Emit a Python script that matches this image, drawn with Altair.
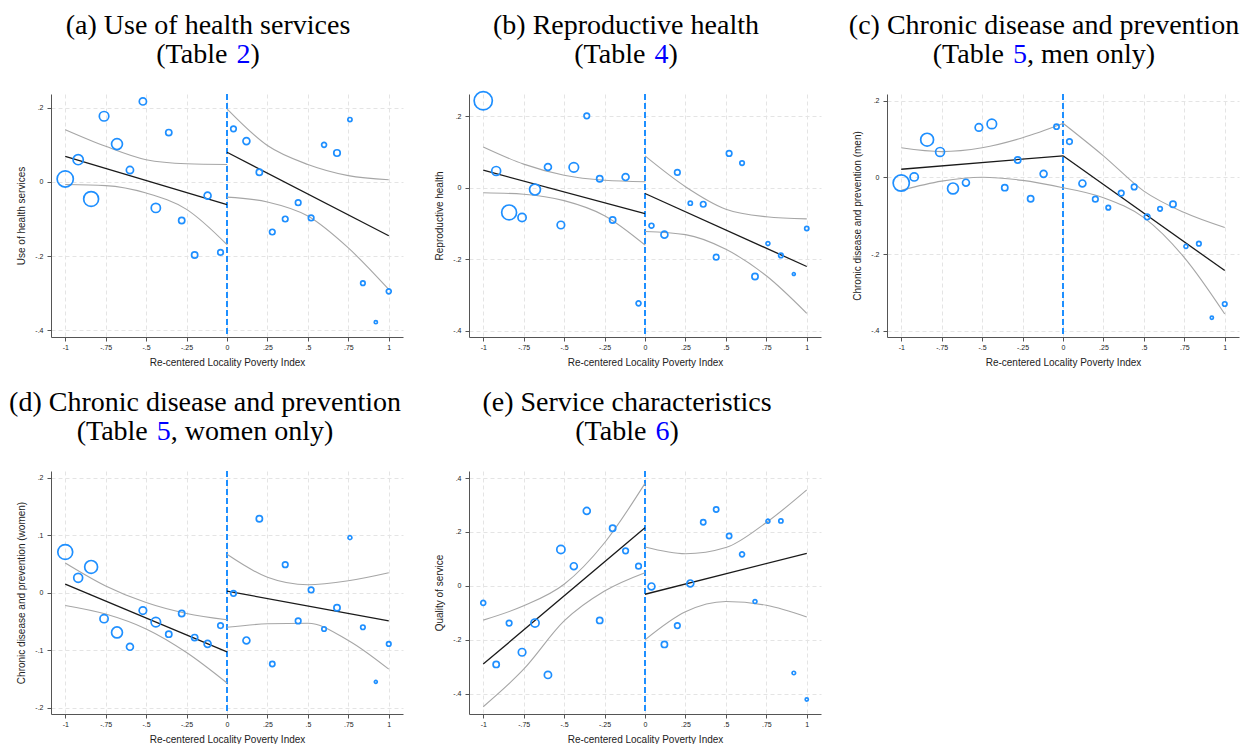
import altair as alt
import pandas as pd

# ---------------- data ----------------
bin_x = [-1.00, -0.92, -0.84, -0.76, -0.68, -0.60, -0.52, -0.44, -0.36, -0.28, -0.20, -0.12, -0.04,
         0.04, 0.12, 0.20, 0.28, 0.36, 0.44, 0.52, 0.60, 0.68, 0.76, 0.84, 0.92, 1.00]
cutoff = [0.0]

x_ticks = [-1, -0.75, -0.5, -0.25, 0, 0.25, 0.5, 0.75, 1]
x_tick_labels = ["-1", "-.75", "-.5", "-.25", "0", ".25", ".5", ".75", "1"]

ci_x_left = [-1.0, -0.75, -0.5, -0.25, 0.0]
ci_x_right = [0.0, 0.25, 0.5, 0.75, 1.0]

# (a) Use of health services
a_y = [0.008, 0.060, -0.046, 0.177, 0.102, 0.032, 0.217, -0.070, 0.133, -0.104, -0.197, -0.037, -0.190,
       0.143, 0.110, 0.026, -0.135, -0.100, -0.056, -0.097, 0.100, 0.078, 0.168, -0.273, -0.378, -0.295]
a_w = [16.2, 10.2, 14.9, 9.5, 10.9, 7.2, 7.2, 9.2, 6.2, 6.2, 6.2, 6.9, 5.5,
       5.5, 6.9, 6.2, 5.5, 5.5, 5.5, 5.5, 4.9, 6.5, 4.2, 4.5, 3.2, 4.9]
a_fit_left = [0.069, -0.061]
a_fit_right = [0.080, -0.145]
a_up_left = [0.141, 0.096, 0.060, 0.049, 0.047]
a_lo_left = [-0.007, -0.010, -0.030, -0.074, -0.169]
a_up_right = [0.197, 0.098, 0.047, 0.017, 0.006]
a_lo_right = [-0.041, -0.054, -0.092, -0.178, -0.290]

# (b) Reproductive health
b_y = [0.243, 0.047, -0.069, -0.083, -0.005, 0.058, -0.104, 0.057, 0.201, 0.025, -0.090, 0.030, -0.323,
       -0.106, -0.131, 0.043, -0.043, -0.046, -0.194, 0.096, 0.069, -0.248, -0.156, -0.189, -0.241, -0.114]
b_w = [18.2, 8.9, 14.9, 8.2, 10.9, 6.9, 7.5, 9.5, 5.5, 6.2, 6.2, 6.9, 4.9,
       4.9, 6.9, 5.5, 4.2, 5.5, 5.5, 5.5, 4.5, 6.2, 3.9, 4.5, 2.9, 4.2]
b_fit_left = [0.049, -0.072]
b_fit_right = [-0.016, -0.220]
b_up_left = [0.114, 0.066, 0.035, 0.021, 0.017]
b_lo_left = [-0.014, -0.018, -0.036, -0.078, -0.160]
b_up_right = [0.089, 0.003, -0.060, -0.081, -0.087]
b_lo_right = [-0.122, -0.131, -0.172, -0.246, -0.351]

# (c) Chronic disease and prevention, men
c_y = [-0.015, 0.001, 0.098, 0.066, -0.029, -0.014, 0.130, 0.139, -0.027, 0.045, -0.056, 0.009, 0.132,
       0.093, -0.016, -0.057, -0.079, -0.041, -0.025, -0.103, -0.082, -0.070, -0.180, -0.173, -0.366, -0.330]
c_w = [16.2, 8.2, 12.9, 8.9, 10.9, 6.9, 7.5, 9.5, 6.2, 6.2, 6.2, 6.9, 5.2,
       5.5, 6.9, 5.5, 4.5, 5.5, 5.5, 5.5, 4.5, 6.2, 3.9, 4.5, 3.2, 4.5]
c_fit_left = [0.021, 0.056]
c_fit_right = [0.056, -0.243]
c_up_left = [0.077, 0.067, 0.077, 0.103, 0.140]
c_lo_left = [-0.034, -0.010, 0.000, -0.008, -0.027]
c_up_right = [0.141, 0.056, -0.036, -0.092, -0.131]
c_lo_right = [-0.027, -0.053, -0.105, -0.209, -0.356]

# (d) Chronic disease and prevention, women
d_y = [0.071, 0.026, 0.045, -0.045, -0.069, -0.094, -0.031, -0.051, -0.072, -0.036, -0.078, -0.089, -0.057,
       -0.001, -0.083, 0.129, -0.124, 0.049, -0.049, 0.005, -0.063, -0.026, 0.096, -0.060, -0.155, -0.089]
d_w = [14.9, 8.9, 12.9, 8.2, 10.9, 6.9, 7.5, 9.5, 6.2, 6.2, 6.2, 6.9, 5.5,
       5.5, 6.9, 6.2, 5.2, 5.5, 5.5, 5.5, 4.5, 6.2, 3.9, 4.5, 2.9, 4.5]
d_fit_left = [0.015, -0.103]
d_fit_right = [0.003, -0.049]
d_up_left = [0.052, 0.012, -0.017, -0.036, -0.047]
d_lo_left = [-0.022, -0.037, -0.063, -0.104, -0.157]
d_up_right = [0.067, 0.027, 0.014, 0.021, 0.035]
d_lo_right = [-0.060, -0.054, -0.053, -0.083, -0.133]

# (e) Service characteristics
e_y = [-0.063, -0.291, -0.138, -0.246, -0.138, -0.330, 0.135, 0.073, 0.278, -0.128, 0.214, 0.130, 0.073,
       -0.002, -0.217, -0.147, 0.009, 0.236, 0.283, 0.185, 0.117, -0.058, 0.240, 0.241, -0.323, -0.421]
e_w = [4.9, 6.2, 5.5, 7.5, 8.2, 7.2, 8.2, 6.9, 6.9, 6.2, 6.2, 5.5, 5.5,
       6.9, 6.2, 5.5, 6.9, 5.2, 5.2, 5.2, 4.9, 3.9, 3.9, 4.2, 3.5, 3.2]
e_fit_left = [-0.290, 0.216]
e_fit_right = [-0.031, 0.121]
e_up_left = [-0.127, -0.074, 0.006, 0.160, 0.380]
e_lo_left = [-0.448, -0.309, -0.130, -0.019, 0.049]
e_up_right = [0.144, 0.119, 0.142, 0.235, 0.356]
e_lo_right = [-0.200, -0.096, -0.058, -0.072, -0.115]

title_line1 = ["(a) Use of health services", "(b) Reproductive health",
               "(c) Chronic disease and prevention", "(d) Chronic disease and prevention",
               "(e) Service characteristics"]
table_prefix = ["(Table ", "(Table ", "(Table ", "(Table ", "(Table "]
table_ref = ["2", "4", "5", "5", "6"]
table_suffix = [")", ")", ", men only)", ", women only)", ")"]
y_titles = ["Use of health services", "Reproductive health", "Chronic disease and prevention (men)",
            "Chronic disease and prevention (women)", "Quality of service"]
y_ticks = [[-0.4, -0.2, 0, 0.2], [-0.4, -0.2, 0, 0.2], [-0.4, -0.2, 0, 0.2],
           [-0.2, -0.1, 0, 0.1, 0.2], [-0.4, -0.2, 0, 0.2, 0.4]]
y_tick_labels = [["-.4", "-.2", "0", ".2"], ["-.4", "-.2", "0", ".2"], ["-.4", "-.2", "0", ".2"],
                 ["-.2", "-.1", "0", ".1", ".2"], ["-.4", "-.2", "0", ".2", ".4"]]
y_domains = [[-0.418, 0.237], [-0.417, 0.262], [-0.416, 0.217], [-0.211, 0.212], [-0.475, 0.426]]

panels_data = [
    (a_y, a_w, a_fit_left, a_fit_right, a_up_left, a_lo_left, a_up_right, a_lo_right),
    (b_y, b_w, b_fit_left, b_fit_right, b_up_left, b_lo_left, b_up_right, b_lo_right),
    (c_y, c_w, c_fit_left, c_fit_right, c_up_left, c_lo_left, c_up_right, c_lo_right),
    (d_y, d_w, d_fit_left, d_fit_right, d_up_left, d_lo_left, d_up_right, d_lo_right),
    (e_y, e_w, e_fit_left, e_fit_right, e_up_left, e_lo_left, e_up_right, e_lo_right),
]

# ---------------- styling / layout ----------------
W, H = 352, 243
BLUE = "#1e8fff"
SANS = "Liberation Sans"
SERIF = "Liberation Serif"
TFS = 28  # title font size
TITLE_CX = [157, 157, 157, 154, 158]  # title centre, px from each plot's left edge
# Times-compatible advance widths (em) used only to place the coloured title piece
TIMES = {"(": .333, ")": .333, " ": .25, ",": .25, "T": .611, "a": .444, "b": .5, "l": .278,
         "e": .444, "m": .778, "n": .5, "o": .5, "y": .5, "w": .722}


def text_width(s):
    return sum(TIMES.get(ch, .5) for ch in s) * TFS


def lab_expr(vals, labs):
    return " : ".join(f"datum.value == {v} ? '{l}'" for v, l in zip(vals, labs)) + " : ''"


def make_panel(i):
    ys, ws, fl, fr, ul, ll, ur, lr = panels_data[i]
    pts = pd.DataFrame({"x": bin_x, "y": ys, "w": ws})
    fit = pd.DataFrame({"x": [ci_x_left[0], ci_x_left[-1], ci_x_right[0], ci_x_right[-1]],
                        "y": fl + fr, "grp": ["L", "L", "R", "R"]})
    ci = pd.DataFrame({
        "x": ci_x_left * 2 + ci_x_right * 2,
        "y": ul + ll + ur + lr,
        "grp": ["ul"] * 5 + ["ll"] * 5 + ["ur"] * 5 + ["lr"] * 5,
    })
    cut = pd.DataFrame({"x": cutoff})

    x_axis = alt.Axis(values=x_ticks, labelExpr=lab_expr(x_ticks, x_tick_labels),
                      title="Re-centered Locality Poverty Index", grid=True, gridDash=[4, 3],
                      gridColor="#e4e4e4", gridWidth=1, domainColor="#555", tickColor="#555",
                      tickSize=4, labelFont=SANS, labelFontSize=7, labelColor="#222", labelPadding=2,
                      labelOverlap=False, labelFlush=False, titleFont=SANS, titleFontSize=10,
                      titleFontWeight="normal", titleColor="#222", titlePadding=7,
                      minExtent=13, maxExtent=13)
    y_axis = alt.Axis(values=y_ticks[i], labelExpr=lab_expr(y_ticks[i], y_tick_labels[i]),
                      title=y_titles[i], grid=True, gridDash=[4, 3], gridColor="#e4e4e4",
                      gridWidth=1, domainColor="#555", tickColor="#555", tickSize=4,
                      labelFont=SANS, labelFontSize=7, labelColor="#222", labelPadding=4,
                      labelOverlap=False, labelFlush=False, labelAngle=0, titleFont=SANS,
                      titleFontSize=10, titleFontWeight="normal", titleColor="#222",
                      titlePadding=7, minExtent=18, maxExtent=18)
    xe = alt.X("x:Q", scale=alt.Scale(domain=[-1.088, 1.088], nice=False, zero=False), axis=x_axis)
    ye = alt.Y("y:Q", scale=alt.Scale(domain=y_domains[i], nice=False, zero=False), axis=y_axis)

    rule = alt.Chart(cut).mark_rule(color=BLUE, strokeDash=[6, 3], strokeWidth=2).encode(
        x=xe, y=alt.value(0), y2=alt.value(H))
    ci_l = alt.Chart(ci).mark_line(color="#a6a6a6", strokeWidth=1.1, interpolate="monotone").encode(
        x=xe, y=ye, detail="grp:N")
    fit_l = alt.Chart(fit).mark_line(color="#1a1a1a", strokeWidth=1.3).encode(
        x=xe, y=ye, detail="grp:N")
    pts_l = alt.Chart(pts).mark_point(shape="circle", filled=False, color=BLUE, strokeWidth=1.7,
                                      opacity=1).encode(
        x=xe, y=ye,
        size=alt.Size("w:Q", scale=alt.Scale(type="pow", exponent=2, domain=[0, 20], range=[0, 400]),
                      legend=None))

    cx = TITLE_CX[i]
    l1 = alt.Chart(pd.DataFrame({"t": [title_line1[i]]})).mark_text(
        font=SERIF, fontSize=TFS, color="black", align="center", baseline="alphabetic").encode(
        text="t:N", x=alt.value(cx), y=alt.value(-60))
    pre, ref, suf = table_prefix[i], table_ref[i], table_suffix[i]
    total = text_width(pre) + text_width(ref) + text_width(suf)
    x0 = cx - total / 2
    pieces = [(pre, x0, "black"), (ref, x0 + text_width(pre), "#0000ff"),
              (suf, x0 + text_width(pre) + text_width(ref), "black")]
    l2 = []
    for s, px, col in pieces:
        l2.append(alt.Chart(pd.DataFrame({"t": [s]})).mark_text(
            font=SERIF, fontSize=TFS, color=col, align="left", baseline="alphabetic").encode(
            text="t:N", x=alt.value(px), y=alt.value(-31)))

    return alt.layer(rule, ci_l, fit_l, pts_l, l1, *l2).properties(width=W, height=H)


panels = [make_panel(i) for i in range(5)]

chart = alt.concat(*panels, columns=3, spacing=alt.RowColnumber(column=66, row=134),
                   bounds="flush").resolve_scale(
    x="independent", y="independent", size="independent"
).configure_view(stroke=None).properties(
    padding={"left": 1, "top": 4, "right": 0, "bottom": 0}, background="white")

chart.save("out.html", embed_options={"renderer": "svg", "actions": False})
